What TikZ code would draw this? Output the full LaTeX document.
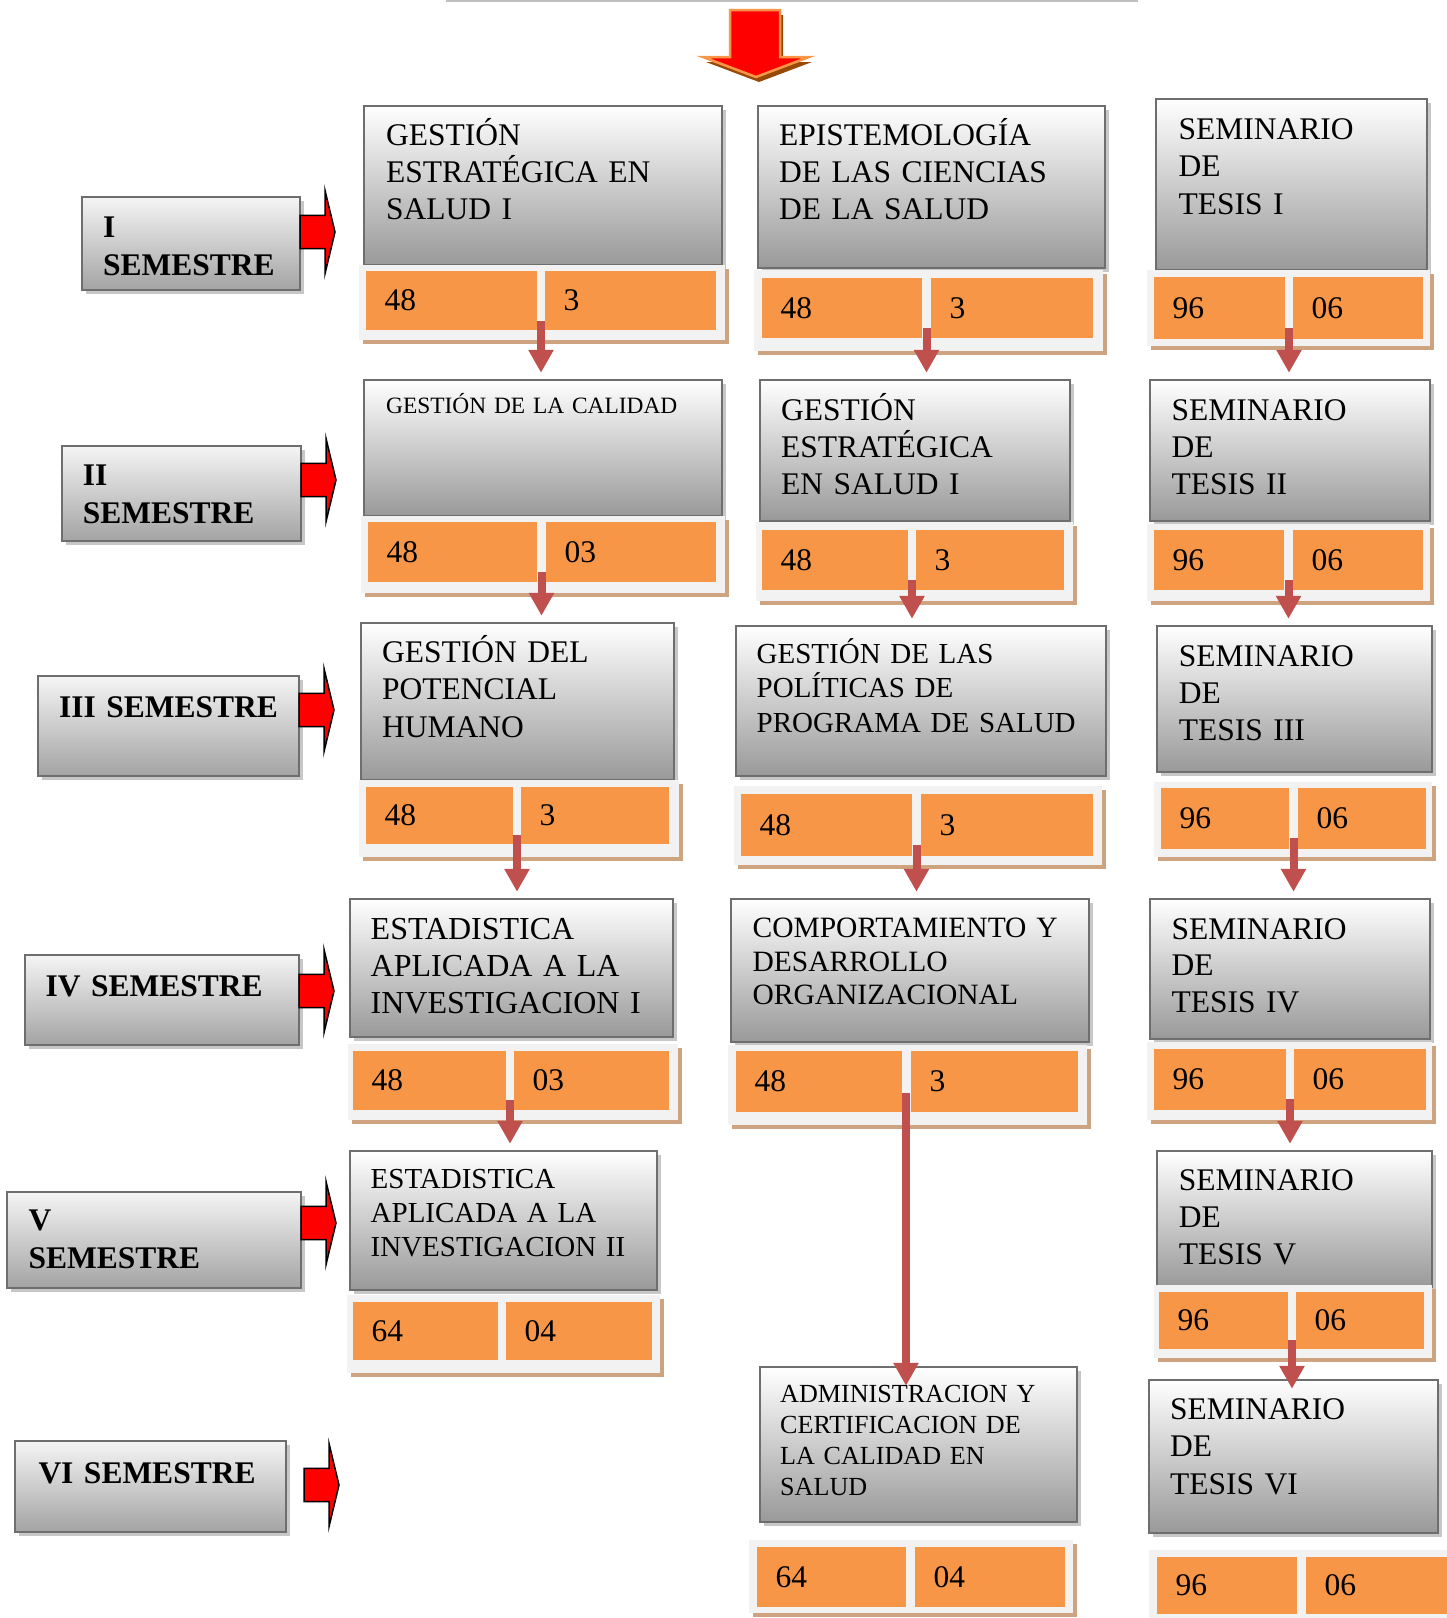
\documentclass[tikz,border=0pt]{standalone}
\usepackage{fontspec}
\setmainfont{Liberation Serif}
\usetikzlibrary{shadows,fit,calc,arrows.meta}
\definecolor{boxborder}{HTML}{6E6E6E}
\definecolor{boxbottom}{HTML}{999999}
\definecolor{orangecell}{HTML}{F79646}
\definecolor{stripbgc}{HTML}{F2F2F2}
\definecolor{tanshadow}{RGB}{206,163,128}
\definecolor{connred}{HTML}{C0504D}
\definecolor{toplinec}{HTML}{BFBFBF}
\definecolor{brownsh}{HTML}{984807}
\newcommand\mkcourse[5]{\node[cbox, fit={(#2,#3)(#4,#5)}] (#1) {};}
\newcommand\mktext[6]{\node[ctxt, font=\fontsize{#4}{#5}\selectfont] (#1) at (#2,#3) {#6};}
\newcommand\mkstrip[5]{\node[stripbox, fit={(#2,#3)(#4,#5)}] (#1) {};}
\newcommand\mkcell[6]{\node[cellbox, fit={(#2,#3)(#4,#5)}] (#1) {};
  \node[numtxt] (#1n) at ([xshift=18.5pt]#1.west) {#6};}
\begin{document}
\begin{tikzpicture}[x=1pt,y=-1pt,
  cbox/.style={inner sep=0pt, draw=boxborder, line width=2.5pt, top color=white, bottom color=boxbottom,
    drop shadow={shadow xshift=4pt, shadow yshift=-4pt, fill=black!22, opacity=1}},
  sbox/.style={inner sep=0pt, draw=boxborder, line width=2.5pt, top color=white!96!black, bottom color=black!36,
    drop shadow={shadow xshift=4pt, shadow yshift=-4pt, fill=black!22, opacity=1}},
  stripbox/.style={inner sep=0pt, fill=stripbgc, draw=none,
    drop shadow={shadow xshift=4pt, shadow yshift=-4pt, fill=tanshadow, opacity=1}},
  cellbox/.style={inner sep=0pt, fill=orangecell, draw=none},
  ctxt/.style={anchor=base west, inner sep=0pt, align=left, text width=440pt},
  semtxt/.style={ctxt, font=\bfseries\fontsize{31.5}{38}\selectfont},
  numtxt/.style={anchor=west, inner sep=0pt, font=\fontsize{31.5}{37}\selectfont},
  conn/.style={connred, line width=8pt, -{Triangle[length=23pt,width=24pt]}},
  semarr/.pic={\draw[fill=red, draw=black, line width=1.5pt] (0,-16.7) -- (25,-16.7) -- (25,-41.7) -- (35,0) -- (25,41.7) -- (25,16.7) -- (0,16.7) -- cycle;}
]
\useasboundingbox (0,0) rectangle (1447,1618);

% top line and arrow
\draw[toplinec, line width=2pt] (446,1) -- (1138,1);
\draw[fill=red, draw=orangecell, line width=2.5pt,
  drop shadow={shadow xshift=3pt, shadow yshift=-5pt, fill=brownsh, opacity=1}]
  (730,10) -- (780,10) -- (780,57) -- (809,57) -- (756,77) -- (703,57) -- (730,57) -- cycle;

% semester boxes
\node[sbox, fit={(82,197)(300,290)}] (s1) {};
\node[sbox, fit={(62,446)(301,541)}] (s2) {};
\node[sbox, fit={(38,676)(299,776)}] (s3) {};
\node[sbox, fit={(25,955)(299,1045)}] (s4) {};
\node[sbox, fit={(7,1192)(301,1288)}] (s5) {};
\node[sbox, fit={(15,1441)(286,1532)}] (s6) {};
\node[semtxt] (s1t) at (103,237) {I\\SEMESTRE};
\node[semtxt] (s2t) at (82.6,485) {II\\SEMESTRE};
\node[semtxt] (s3t) at (59,717.5) {III SEMESTRE};
\node[semtxt] (s4t) at (45.4,996.5) {IV SEMESTRE};
\node[semtxt] (s5t) at (28.3,1230.5) {V\\SEMESTRE};
\node[semtxt] (s6t) at (38.3,1483) {VI SEMESTRE};
\pic at (300,232) {semarr};
\pic at (301,480) {semarr};
\pic at (299,710) {semarr};
\pic at (299,991) {semarr};
\pic at (301,1223) {semarr};
\pic at (304,1485) {semarr};

% column 1
\mkcourse{c11}{364}{106}{722}{265}
\mkcourse{c12}{364}{380}{722}{516}
\mkcourse{c13}{361}{623}{674}{780}
\mkcourse{c14}{350}{899}{673}{1037}
\mkcourse{c15}{350}{1151}{657}{1290}
% column 2
\mkcourse{c21}{758}{106}{1105}{268}
\mkcourse{c22}{760}{380}{1070}{521}
\mkcourse{c23}{736}{626}{1106}{776}
\mkcourse{c24}{731}{899}{1089}{1042}
\mkcourse{c26}{760}{1367}{1077}{1522}
% column 3
\mkcourse{c31}{1156}{99}{1427}{270}
\mkcourse{c32}{1150}{380}{1430}{521}
\mkcourse{c33}{1157}{626}{1432}{772}
\mkcourse{c34}{1150}{899}{1430}{1039}
\mkcourse{c35}{1157}{1151}{1432}{1287}
\mkcourse{c36}{1149}{1380}{1438}{1533}

% strips and cells
\mkstrip{p11}{359}{265}{725}{340}
\mkcell{p11a}{366}{271}{537}{330}{48}
\mkcell{p11b}{545}{271}{716}{330}{3}
\mkstrip{p12}{361}{516}{725}{593}
\mkcell{p12a}{368}{522}{537}{582}{48}
\mkcell{p12b}{546}{522}{716}{582}{03}
\mkstrip{p13}{359}{780}{679}{857}
\mkcell{p13a}{366}{787}{513}{844}{48}
\mkcell{p13b}{521}{787}{669}{844}{3}
\mkstrip{p14}{348}{1044}{678}{1120}
\mkcell{p14a}{353}{1051}{506}{1110}{48}
\mkcell{p14b}{514}{1051}{669}{1110}{03}
\mkstrip{p15}{347}{1295}{660}{1373}
\mkcell{p15a}{353}{1302}{498}{1360}{64}
\mkcell{p15b}{506}{1302}{652}{1360}{04}

\mkstrip{p21}{754}{270}{1103}{351}
\mkcell{p21a}{762}{278}{922}{338}{48}
\mkcell{p21b}{931}{278}{1093}{338}{3}
\mkstrip{p22}{756}{522}{1073}{601}
\mkcell{p22a}{762}{530}{908}{590}{48}
\mkcell{p22b}{916}{530}{1064}{590}{3}
\mkstrip{p23}{734}{786}{1102}{865}
\mkcell{p23a}{741}{794}{912}{856}{48}
\mkcell{p23b}{921}{794}{1093}{856}{3}
\mkstrip{p24}{728}{1045}{1087}{1125}
\mkcell{p24a}{736}{1051}{902}{1112}{48}
\mkcell{p24b}{911}{1051}{1078}{1112}{3}
\mkstrip{p26}{749}{1540}{1073}{1613}
\mkcell{p26a}{757}{1547}{906}{1607}{64}
\mkcell{p26b}{915}{1547}{1065}{1607}{04}

\mkstrip{p31}{1147}{270}{1430}{346}
\mkcell{p31a}{1154}{277}{1285}{339}{96}
\mkcell{p31b}{1293}{277}{1423}{339}{06}
\mkstrip{p32}{1147}{524}{1430}{601}
\mkcell{p32a}{1154}{530}{1284}{590}{96}
\mkcell{p32b}{1293}{530}{1423}{590}{06}
\mkstrip{p33}{1154}{782}{1432}{857}
\mkcell{p33a}{1161}{788}{1289}{849}{96}
\mkcell{p33b}{1298}{788}{1426}{849}{06}
\mkstrip{p34}{1147}{1042}{1432}{1120}
\mkcell{p34a}{1154}{1049}{1286}{1110}{96}
\mkcell{p34b}{1294}{1049}{1426}{1110}{06}
\mkstrip{p35}{1154}{1285}{1432}{1358}
\mkcell{p35a}{1159}{1292}{1288}{1349}{96}
\mkcell{p35b}{1296}{1292}{1424}{1349}{06}
\mkstrip{p36}{1149}{1550}{1450}{1621}
\mkcell{p36a}{1157}{1557}{1297}{1614}{96}
\mkcell{p36b}{1306}{1557}{1450}{1614}{06}

% texts
\mktext{t11}{386}{145.4}{31.5}{37}{GESTIÓN\\ESTRATÉGICA EN\\SALUD I}
\mktext{t12}{386}{413.5}{23.4}{29}{GESTIÓN DE LA CALIDAD}
\mktext{t13}{382}{662.4}{31.5}{37.5}{GESTIÓN DEL\\POTENCIAL\\HUMANO}
\mktext{t14}{370.5}{939.4}{32}{37}{ESTADISTICA\\APLICADA A LA\\INVESTIGACION I}
\mktext{t15}{370.5}{1188.2}{29}{34}{ESTADISTICA\\APLICADA A LA\\INVESTIGACION II}
\mktext{t21}{779}{145.4}{31.5}{37}{EPISTEMOLOGÍA\\DE LAS CIENCIAS\\DE LA SALUD}
\mktext{t22}{781}{420}{31.5}{37}{GESTIÓN\\ESTRATÉGICA\\EN SALUD I}
\mktext{t23}{756.5}{663.6}{29}{34.3}{GESTIÓN DE LAS\\POLÍTICAS DE\\PROGRAMA DE SALUD}
\mktext{t24}{752.4}{937.8}{29.5}{33.5}{COMPORTAMIENTO Y\\DESARROLLO\\ORGANIZACIONAL}
\mktext{t26}{780}{1402.2}{26.1}{31}{ADMINISTRACION Y\\CERTIFICACION DE\\LA CALIDAD EN\\SALUD}
\mktext{t31}{1178.5}{139}{31.5}{37.5}{SEMINARIO\\DE\\TESIS I}
\mktext{t32}{1171.4}{420}{31.5}{37}{SEMINARIO\\DE\\TESIS II}
\mktext{t33}{1178.7}{666.8}{31.5}{36.6}{SEMINARIO\\DE\\TESIS III}
\mktext{t34}{1171.4}{939.4}{31.5}{36.5}{SEMINARIO\\DE\\TESIS IV}
\mktext{t35}{1178.7}{1190}{31.5}{37}{SEMINARIO\\DE\\TESIS V}
\mktext{t36}{1170}{1419}{31.5}{37.5}{SEMINARIO\\DE\\TESIS VI}

% connectors
\coordinate (a11) at (541,321);
\coordinate (a12) at (541.5,572);
\coordinate (a13) at (517,835);
\coordinate (a14) at (510,1100);
\coordinate (a21) at (926.5,328);
\coordinate (a22) at (912,580);
\coordinate (a23) at (916.5,845);
\coordinate (a24) at (906,1093);
\coordinate (a31) at (1289,328);
\coordinate (a32) at (1288.5,580);
\coordinate (a33) at (1293.5,838);
\coordinate (a34) at (1290,1099);
\coordinate (a35) at (1292,1340);
\draw[conn, shorten >=6pt] (a11) -- (a11 |- c12.north);
\draw[conn, shorten >=6pt] (a12) -- (a12 |- c13.north);
\draw[conn, shorten >=6pt] (a13) -- (a13 |- c14.north);
\draw[conn, shorten >=6pt] (a14) -- (a14 |- c15.north);
\draw[conn, shorten >=6pt] (a21) -- (a21 |- c22.north);
\draw[conn, shorten >=6pt] (a22) -- (a22 |- c23.north);
\draw[conn, shorten >=6pt] (a23) -- (a23 |- c24.north);
\draw[conn] (a24) -- ($(a24 |- c26.north)+(0,20)$);
\draw[conn, shorten >=6pt] (a31) -- (a31 |- c32.north);
\draw[conn, shorten >=6pt] (a32) -- (a32 |- c33.north);
\draw[conn, shorten >=6pt] (a33) -- (a33 |- c34.north);
\draw[conn, shorten >=6pt] (a34) -- (a34 |- c35.north);
\draw[conn] (a35) -- ($(a35 |- c36.north)+(0,10)$);
\end{tikzpicture}
\end{document}
